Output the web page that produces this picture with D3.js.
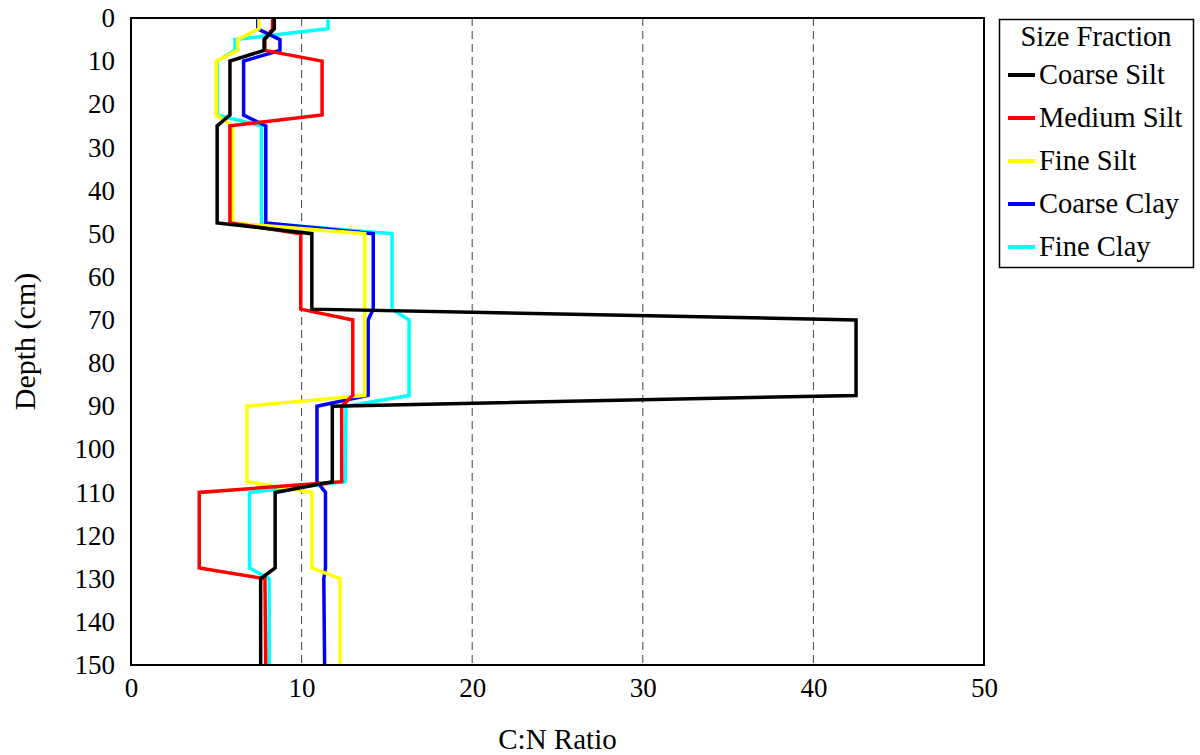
<!DOCTYPE html>
<html>
<head>
<meta charset="utf-8">
<script src="https://cdn.jsdelivr.net/npm/d3@7"></script>
<style>
  body { margin: 0; background: #fff; }
  svg text { font-family: "Liberation Serif", "Times New Roman", serif; fill: #000; }
</style>
</head>
<body>
<script>
// depth (cm) of every point, shared by all series
const depths = [0, 2.5, 5, 7.5, 10, 22.5, 25, 47.5, 50, 67.5, 70, 87.5, 90, 107.5, 110, 127.5, 130, 150];

const coarseSilt  = [8.4, 8.4, 7.8, 7.8, 5.8, 5.8, 5.05, 5.05, 10.6, 10.6, 42.5, 42.5, 11.8, 11.8, 8.45, 8.45, 7.6, 7.6];
const mediumSilt  = [8.3, 8.3, 7.85, 7.85, 11.2, 11.2, 5.8, 5.8, 9.95, 9.95, 13.0, 13.0, 12.35, 12.35, 4.0, 4.0, 7.85, 7.9];
const fineSilt    = [7.5, 7.5, 6.25, 6.25, 5.0, 5.0, 5.95, 5.95, 13.7, 13.7, 13.7, 13.7, 6.8, 6.8, 10.6, 10.6, 12.25, 12.25];
const coarseClay  = [7.43, 7.43, 8.73, 8.73, 6.6, 6.6, 7.9, 7.9, 14.2, 14.2, 13.9, 13.9, 10.9, 10.9, 11.4, 11.4, 11.3, 11.35];
const fineClay    = [11.55, 11.55, 6.1, 6.1, 5.05, 5.05, 7.65, 7.65, 15.3, 15.3, 16.3, 16.3, 12.6, 12.55, 6.95, 6.95, 8.1, 8.1];

const seriesNames  = ['Coarse Silt', 'Medium Silt', 'Fine Silt', 'Coarse Clay', 'Fine Clay'];
const seriesValues = [coarseSilt, mediumSilt, fineSilt, coarseClay, fineClay];
const seriesColors = ['#000000', '#ff0000', '#ffff00', '#0000ff', '#00ffff'];

const xTicks = [0, 10, 20, 30, 40, 50];
const yTicks = [0, 10, 20, 30, 40, 50, 60, 70, 80, 90, 100, 110, 120, 130, 140, 150];
const gridTicks = [10, 20, 30, 40];

const W = 1200, H = 755;
const plot = { left: 131, right: 984, top: 18, bottom: 665 };
const serif = '"Liberation Serif", "Times New Roman", serif';

const svg = d3.select('body').append('svg')
    .attr('width', W)
    .attr('height', H);

const x = d3.scaleLinear().domain([0, 50]).range([plot.left, plot.right]);
const y = d3.scaleLinear().domain([0, 150]).range([plot.top, plot.bottom]);

// dashed vertical gridlines
svg.append('g')
    .selectAll('line')
    .data(gridTicks)
    .enter().append('line')
    .attr('x1', d => x(d)).attr('x2', d => x(d))
    .attr('y1', plot.top).attr('y2', plot.bottom)
    .attr('stroke', '#444')
    .attr('stroke-width', 1)
    .attr('stroke-dasharray', '8,5');

// x axis labels
const xAxis = svg.append('g')
    .attr('transform', `translate(0, ${plot.bottom})`)
    .attr('font-family', serif)
    .call(d3.axisBottom(x).tickValues(xTicks).tickSize(0).tickPadding(13));
xAxis.attr('font-family', serif);
xAxis.select('.domain').remove();
xAxis.selectAll('text')
    .style('font-family', serif)
    .style('font-size', '27px');

// y axis labels
const yAxis = svg.append('g')
    .attr('transform', `translate(${plot.left}, 0)`)
    .call(d3.axisLeft(y).tickValues(yTicks).tickSize(0).tickPadding(16));
yAxis.attr('font-family', serif);
yAxis.select('.domain').remove();
yAxis.selectAll('text')
    .style('font-family', serif)
    .style('font-size', '27px');

// series, last one drawn first so the black line sits on top
const line = d3.line()
    .x(d => x(d[0]))
    .y(d => y(d[1]));

const order = d3.range(seriesNames.length).reverse();
svg.append('g')
    .selectAll('path')
    .data(order)
    .enter().append('path')
    .attr('d', i => line(seriesValues[i].map((v, j) => [v, depths[j]])))
    .attr('fill', 'none')
    .attr('stroke', i => seriesColors[i])
    .attr('stroke-width', 3.5)
    .attr('stroke-linejoin', 'miter');

// plot frame
svg.append('rect')
    .attr('x', plot.left).attr('y', plot.top)
    .attr('width', plot.right - plot.left)
    .attr('height', plot.bottom - plot.top)
    .attr('fill', 'none')
    .attr('stroke', '#000')
    .attr('stroke-width', 2);

// axis titles
svg.append('text')
    .attr('x', (plot.left + plot.right) / 2)
    .attr('y', 749)
    .attr('text-anchor', 'middle')
    .style('font-size', '29px')
    .text('C:N Ratio');

svg.append('text')
    .attr('transform', `translate(35, ${(plot.top + plot.bottom) / 2}) rotate(-90)`)
    .attr('text-anchor', 'middle')
    .style('font-size', '30px')
    .text('Depth (cm)');

// legend
const legend = svg.append('g');
legend.append('rect')
    .attr('x', 999.5).attr('y', 19.5)
    .attr('width', 194).attr('height', 248)
    .attr('fill', '#fff')
    .attr('stroke', '#000')
    .attr('stroke-width', 1.5);

legend.append('text')
    .attr('x', 1096)
    .attr('y', 46)
    .attr('text-anchor', 'middle')
    .style('font-size', '28.5px')
    .text('Size Fraction');

const items = legend.selectAll('g.item')
    .data(seriesNames)
    .enter().append('g')
    .attr('class', 'item')
    .attr('transform', (d, i) => `translate(0, ${75 + i * 43})`);

items.append('line')
    .attr('x1', 1008).attr('x2', 1035)
    .attr('y1', 0).attr('y2', 0)
    .attr('stroke', (d, i) => seriesColors[i])
    .attr('stroke-width', 4);

items.append('text')
    .attr('x', 1039)
    .attr('y', 9)
    .style('font-size', '28.5px')
    .text(d => d);
</script>
</body>
</html>
